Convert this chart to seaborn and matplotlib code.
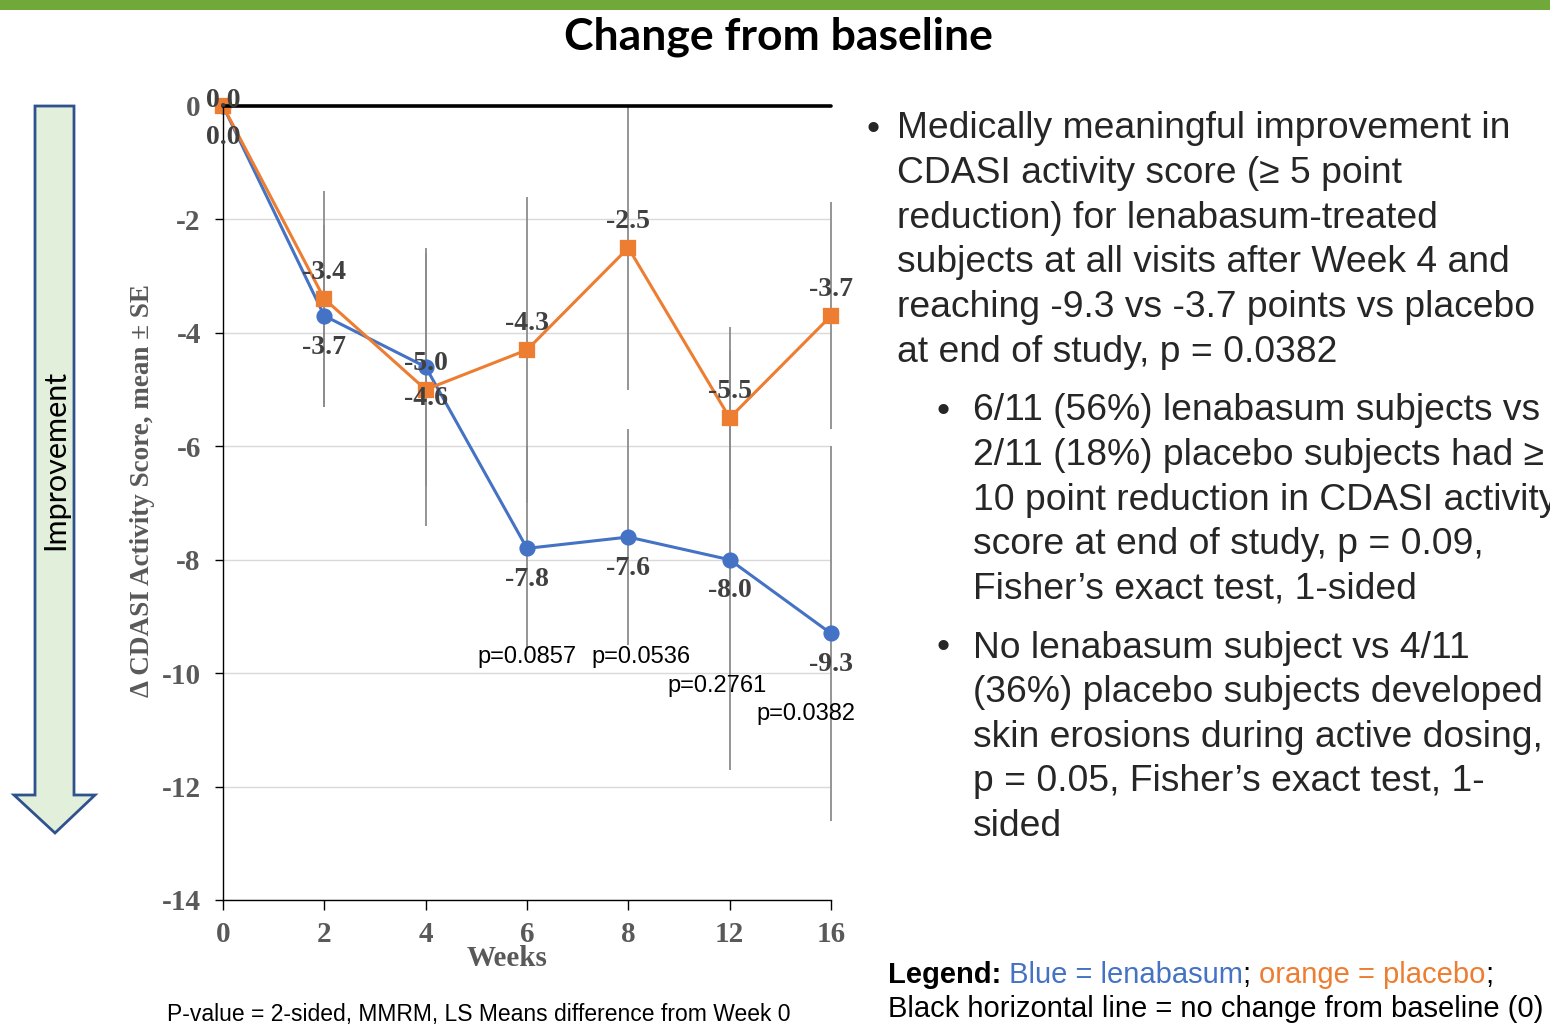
"""Change from baseline in CDASI activity score, lenabasum vs placebo."""

import matplotlib

matplotlib.use("Agg")

import matplotlib.pyplot as plt
import numpy as np
import pandas as pd
import seaborn as sns
from matplotlib.patches import Polygon, Rectangle

# weeks are shown as evenly spaced categories
weeks = ["0", "2", "4", "6", "8", "12", "16"]
lenabasum_mean = [0.0, -3.7, -4.6, -7.8, -7.6, -8.0, -9.3]
lenabasum_se = [0.0, 1.6, 2.1, 1.8, 1.9, 3.7, 3.3]
placebo_mean = [0.0, -3.4, -5.0, -4.3, -2.5, -5.5, -3.7]
placebo_se = [0.0, 1.9, 2.4, 2.7, 2.5, 1.6, 2.0]

p_weeks = ["6", "8", "12", "16"]
p_labels = ["p=0.0857", "p=0.0536", "p=0.2761", "p=0.0382"]
# (x offset in points, y in data units) for each p-value label
p_label_place = [(0, -9.72), (9, -9.72), (-9, -10.23), (-18, -10.72)]

y_ticks = [0, -2, -4, -6, -8, -10, -12, -14]

main_bullet = [
    "Medically meaningful improvement in",
    "CDASI activity score (\u2265 5 point",
    "reduction) for lenabasum-treated",
    "subjects at all visits after Week 4 and",
    "reaching -9.3 vs -3.7 points vs placebo",
    "at end of study, p = 0.0382",
]
sub_bullets = [
    [
        "6/11 (56%) lenabasum subjects vs",
        "2/11 (18%) placebo subjects had \u2265",
        "10 point reduction in CDASI activity",
        "score at end of study, p = 0.09,",
        "Fisher\u2019s exact test, 1-sided",
    ],
    [
        "No lenabasum subject vs 4/11",
        "(36%) placebo subjects developed",
        "skin erosions during active dosing,",
        "p = 0.05, Fisher\u2019s exact test, 1-",
        "sided",
    ],
]

BLUE = "#4472C4"
ORANGE = "#ED7D31"
GREY_TEXT = "#595959"
LABEL_TEXT = "#404040"
SERIF = "Liberation Serif"
SANS = "Liberation Sans"
TITLE_FONT = "Lato"

sns.set_theme(style="white")
plt.rcParams["axes.unicode_minus"] = False
plt.rcParams["font.family"] = [SANS, "DejaVu Sans"]

W, H = 1550, 1027
fig = plt.figure(figsize=(W / 100, H / 100), dpi=100)

# background layer in pixel coordinates for the slide decorations
bg = fig.add_axes([0, 0, 1, 1], zorder=0)
bg.set_xlim(0, W)
bg.set_ylim(H, 0)
bg.axis("off")

bg.add_patch(Rectangle((0, 0), W, 10, color="#70A83A", lw=0))
bg.text(778, 37, "Change from baseline", ha="center", va="center",
        fontsize=32, fontweight="bold", family=TITLE_FONT, color="black")

arrow = [(35, 106), (74, 106), (74, 795), (95, 795), (55, 833), (14, 795), (35, 795)]
bg.add_patch(Polygon(arrow, closed=True, facecolor="#E2EFDA", edgecolor="#2F528F", lw=2))
bg.text(55, 460, "Improvement", rotation=90, ha="center", va="center",
        fontsize=22, family=TITLE_FONT, color="black")

# chart
left, right, top, bottom = 223, 831, 106, 900
ax = fig.add_axes([left / W, 1 - bottom / H, (right - left) / W, (bottom - top) / H], zorder=1)
ax.patch.set_alpha(0)

df = pd.DataFrame({
    "week": weeks * 2,
    "change": lenabasum_mean + placebo_mean,
    "group": ["lenabasum"] * len(weeks) + ["placebo"] * len(weeks),
})
pos = np.arange(len(weeks))

ax.errorbar(pos, lenabasum_mean, yerr=lenabasum_se, fmt="none",
            ecolor="#8c8c8c", elinewidth=1.3, zorder=1)
ax.errorbar(pos, placebo_mean, yerr=placebo_se, fmt="none",
            ecolor="#8c8c8c", elinewidth=1.3, zorder=1)

sns.pointplot(data=df, x="week", y="change", hue="group", order=weeks,
              hue_order=["lenabasum", "placebo"], palette=[BLUE, ORANGE],
              markers=["o", "s"], linestyles=["-", "-"], errorbar=None,
              dodge=False, legend=False, ax=ax, markersize=10, linewidth=2.2)
for line in ax.lines:
    line.set_clip_on(False)
for coll in ax.collections:
    coll.set_clip_on(False)

ax.axhline(0, color="black", lw=2.6, zorder=5, clip_on=False)

ax.set_xlim(0, len(weeks) - 1)
ax.set_ylim(-14, 0)
ax.set_yticks(y_ticks)
ax.set_yticklabels([str(t) for t in y_ticks])
ax.set_xticks(pos)
ax.set_xticklabels(weeks)
ax.yaxis.grid(True, color="#d9d9d9", lw=1)
ax.xaxis.grid(False)
ax.set_axisbelow(True)

for side in ["top", "right"]:
    ax.spines[side].set_visible(False)
for side in ["left", "bottom"]:
    ax.spines[side].set_color("black")
    ax.spines[side].set_linewidth(1)

ax.tick_params(axis="y", direction="out", length=6, width=1, color="black",
               left=True, pad=10, labelsize=21, labelcolor=GREY_TEXT)
ax.tick_params(axis="x", direction="out", length=7, width=1, color="black",
               bottom=True, pad=8, labelsize=21, labelcolor=GREY_TEXT)
for lab in ax.get_xticklabels() + ax.get_yticklabels():
    lab.set_family(SERIF)
    lab.set_fontweight("bold")

ax.set_xlabel("Weeks", family=SERIF, fontweight="bold", fontsize=21,
              color=GREY_TEXT, va="center")
ax.xaxis.set_label_coords(0.467, -0.074)
ax.set_ylabel("\u0394 CDASI Activity Score, mean \u00b1 SE", family=SERIF,
              fontweight="bold", fontsize=19.5, color=GREY_TEXT, va="center")
ax.yaxis.set_label_coords(-0.133, 0.516)

# data labels: placebo above, lenabasum below
for i, v in enumerate(placebo_mean):
    dy = 4 if i == 0 else 19
    ax.annotate(f"{v:.1f}", xy=(pos[i], v), xytext=(0, dy), textcoords="offset points",
                ha="center", va="center", family=SERIF, fontweight="bold",
                fontsize=20, color=LABEL_TEXT, annotation_clip=False, zorder=6)
for i, v in enumerate(lenabasum_mean):
    ax.annotate(f"{v:.1f}", xy=(pos[i], v), xytext=(0, -22.5), textcoords="offset points",
                ha="center", va="center", family=SERIF, fontweight="bold",
                fontsize=20, color=LABEL_TEXT, annotation_clip=False, zorder=6)

for wk, txt, (dx, yv) in zip(p_weeks, p_labels, p_label_place):
    ax.annotate(txt, xy=(weeks.index(wk), yv), xytext=(dx, 0), textcoords="offset points",
                ha="center", va="center", family=SANS, fontsize=17,
                color="black", annotation_clip=False, zorder=6)

# footnote
bg.text(167, 1015, "P-value = 2-sided, MMRM, LS Means difference from Week 0",
        ha="left", va="center", fontsize=16.5, family=SANS, color="black")

# bullet text on the right
line_h = 44.6
fs = 26.8
bg.text(866, 129, "\u2022", ha="left", va="center", fontsize=fs, family=SANS)
for k, s in enumerate(main_bullet):
    bg.text(897, 129 + k * line_h, s, ha="left", va="center", fontsize=fs, family=SANS)
for y0, block in zip([411, 648], sub_bullets):
    bg.text(936, y0, "\u2022", ha="left", va="center", fontsize=fs, family=SANS)
    for k, s in enumerate(block):
        bg.text(973, y0 + k * line_h, s, ha="left", va="center", fontsize=fs, family=SANS)

# legend text
t = bg.text(888, 975, "Legend:", ha="left", va="center", fontsize=21,
            fontweight="bold", family=SANS, color="black")
for piece, color in [(" Blue = lenabasum", BLUE), ("; ", "black"),
                     ("orange = placebo", ORANGE), (";", "black")]:
    t = bg.annotate(piece, xy=(1, 0), xycoords=t, ha="left", va="bottom",
                    fontsize=21, family=SANS, color=color)
bg.text(888, 1009, "Black horizontal line = no change from baseline (0)",
        ha="left", va="center", fontsize=21, family=SANS, color="black")

fig.savefig("out.png", dpi=100)
